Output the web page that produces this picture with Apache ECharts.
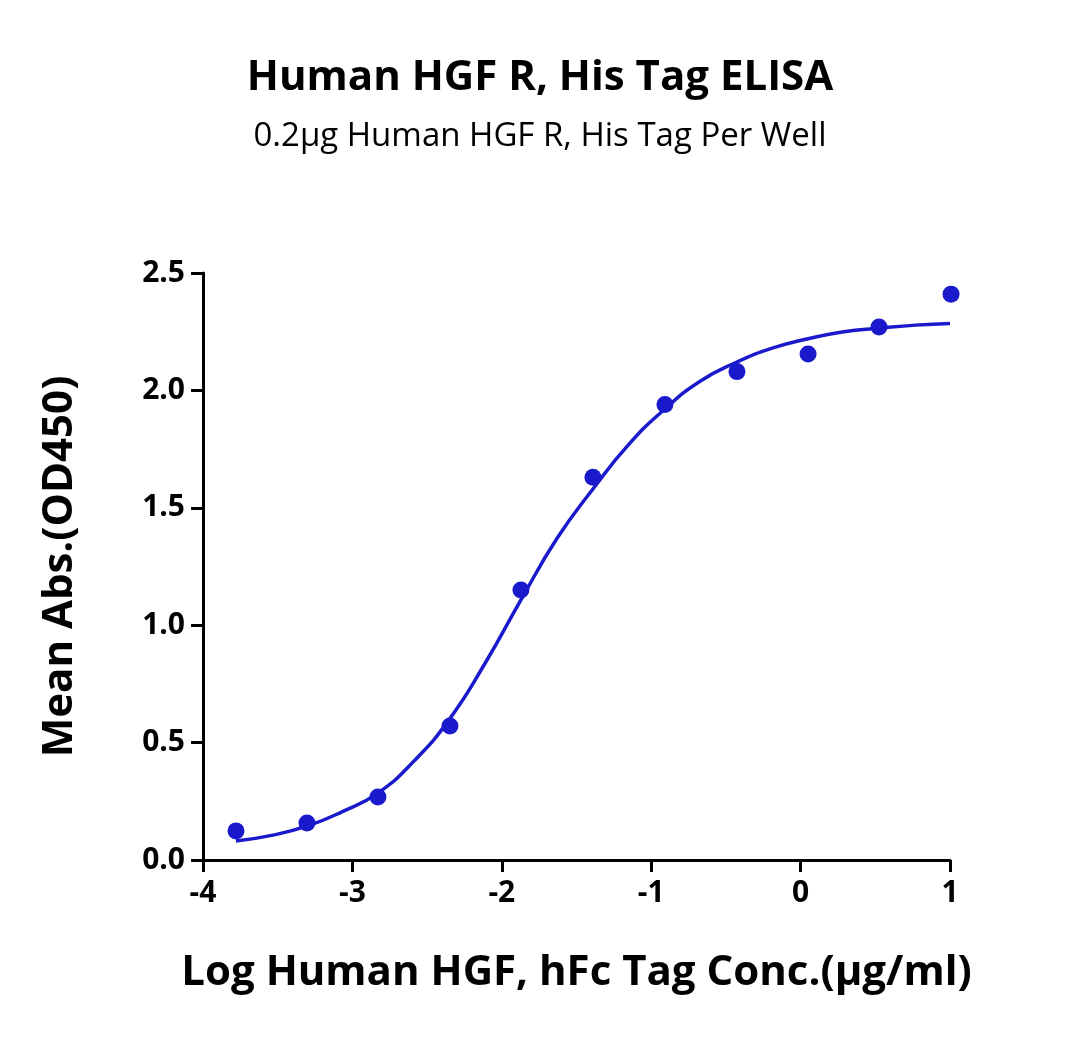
<!DOCTYPE html>
<html><head><meta charset="utf-8">
<script src="https://cdn.jsdelivr.net/npm/echarts@6/dist/echarts.min.js"></script>
<style>body{margin:0}#c{width:1080px;height:1055px}</style></head>
<body><div id="c"></div>
<script>
const pointX=[-3.779,-3.304,-2.829,-2.347,-1.872,-1.39,-0.908,-0.426,0.05,0.525,1.007];
const pointY=[0.124,0.158,0.268,0.571,1.15,1.63,1.94,2.08,2.155,2.27,2.41];
const curveX=[-3.78,-3.54,-3.3,-3.07,-2.83,-2.59,-2.35,-2.11,-1.87,-1.63,-1.39,-1.15,-0.91,-0.67,-0.43,-0.19,0.05,0.29,0.53,0.77,1.0];
const curveY=[0.081,0.105,0.145,0.205,0.285,0.42,0.6,0.84,1.11,1.37,1.58,1.77,1.92,2.04,2.12,2.18,2.22,2.25,2.265,2.278,2.285];
const xTicks=[-4,-3,-2,-1,0,1];
const ff='"Open Sans","Noto Sans",sans-serif';
const ch=echarts.init(document.getElementById('c'));
ch.setOption({
 title:[{text:'Human HGF R, His Tag ELISA',left:'center',top:52,textStyle:{fontSize:42,fontWeight:'bold',color:'#000',fontFamily:ff}},
        {text:'0.2μg Human HGF R, His Tag Per Well',left:'center',top:115,textStyle:{fontSize:33,fontWeight:'normal',color:'#000',fontFamily:ff}}],
 grid:{left:203,right:130,top:273,bottom:195},
 xAxis:{type:'value',min:-4,max:1,interval:1,
   name:'Log Human HGF, hFc Tag Conc.(μg/ml)',nameLocation:'middle',nameGap:92,
   nameTextStyle:{fontSize:42,fontWeight:'bold',color:'#000',fontFamily:ff},
   axisLine:{onZero:false,lineStyle:{color:'#000',width:3}},axisTick:{length:12,lineStyle:{width:3,color:'#000'}},
   axisLabel:{fontSize:30,fontWeight:'bold',color:'#000',fontFamily:ff,margin:18},splitLine:{show:false}},
 yAxis:{type:'value',min:0,max:2.5,interval:0.5,
   name:'Mean Abs.(OD450)',nameLocation:'middle',nameGap:122,
   nameTextStyle:{fontSize:42,fontWeight:'bold',color:'#000',fontFamily:ff},
   axisLine:{show:true,onZero:false,lineStyle:{color:'#000',width:3}},axisTick:{show:true,length:12,lineStyle:{width:3,color:'#000'}},
   axisLabel:{fontSize:30,fontWeight:'bold',color:'#000',fontFamily:ff,margin:18,formatter:v=>v.toFixed(1)},splitLine:{show:false}},
 series:[
  {type:'line',data:curveX.map((x,i)=>[x,curveY[i]]),smooth:true,showSymbol:false,lineStyle:{color:'#1a1acc',width:3.5},z:2},
  {type:'scatter',clip:false,data:pointX.map((x,i)=>[x,pointY[i]]),symbolSize:17,itemStyle:{color:'#1a1acc',opacity:1},z:3}
 ]
});
</script></body></html>
